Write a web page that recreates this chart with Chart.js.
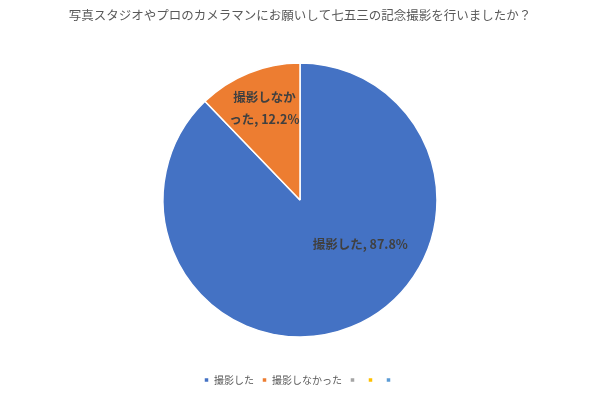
<!DOCTYPE html>
<html>
<head>
<meta charset="utf-8">
<script src="https://cdn.jsdelivr.net/npm/chart.js@4/dist/chart.umd.min.js"></script>
<style>
  html, body { margin: 0; padding: 0; background: #fff; }
  #wrap { width: 600px; height: 396px; }
</style>
</head>
<body>
<div id="wrap"><canvas id="chart"></canvas></div>
<script>
const titulo = '写真スタジオやプロのカメラマンにお願いして七五三の記念撮影を行いましたか？'
const categorias = ['撮影した', '撮影しなかった', '', '', '']
const valores = [87.8, 12.2, 0, 0, 0]
const cores = ['#4472C4', '#ED7D31', '#A5A5A5', '#FFC000', '#5B9BD5']
// linhas do rótulo de cada fatia
const rotulos = [
    ['撮影した, 87.8%'],
    ['撮影しなか', 'った, 12.2%']
]

const fonte = '"Noto Sans CJK JP", "Noto Sans", sans-serif'

// rótulos dentro das fatias (posição relativa ao raio)
const posRotulos = [
    { dx: 0.44, dy: 0.32 },
    { dx: -0.26, dy: -0.67 }
]
const pluginRotulos = {
    id: 'rotulos',
    afterDatasetsDraw(chart) {
        const ctx = chart.ctx
        const arcos = chart.getDatasetMeta(0).data
        ctx.save()
        ctx.font = 'bold 12.5px ' + fonte
        ctx.fillStyle = '#404040'
        ctx.textAlign = 'center'
        ctx.textBaseline = 'middle'
        rotulos.forEach((linhas, i) => {
            const a = arcos[i]
            const r = a.outerRadius
            const x = a.x + posRotulos[i].dx * r
            const y = a.y + posRotulos[i].dy * r
            const alt = 22
            linhas.forEach((t, j) => {
                ctx.fillText(t, x, y + (j - (linhas.length - 1) / 2) * alt)
            })
        })
        ctx.restore()
    }
}

new Chart(document.getElementById('chart'), {
    type: 'pie',
    data: {
        labels: categorias,
        datasets: [{
            data: valores,
            backgroundColor: cores,
            borderColor: '#ffffff',
            borderWidth: 1.5,
            radius: 137
        }]
    },
    options: {
        responsive: true,
        maintainAspectRatio: false,
        animation: false,
        layout: { padding: { bottom: 1 } },
        plugins: {
            title: {
                display: true,
                text: titulo,
                color: '#595959',
                font: { family: fonte, size: 12.5, weight: 'normal' },
                padding: { top: 8, bottom: 10 }
            },
            legend: {
                position: 'bottom',
                labels: {
                    boxWidth: 5,
                    boxHeight: 5,
                    padding: 8,
                    color: '#595959',
                    font: { family: fonte, size: 10 }
                }
            },
            tooltip: { enabled: false }
        }
    },
    plugins: [pluginRotulos]
})
</script>
</body>
</html>
